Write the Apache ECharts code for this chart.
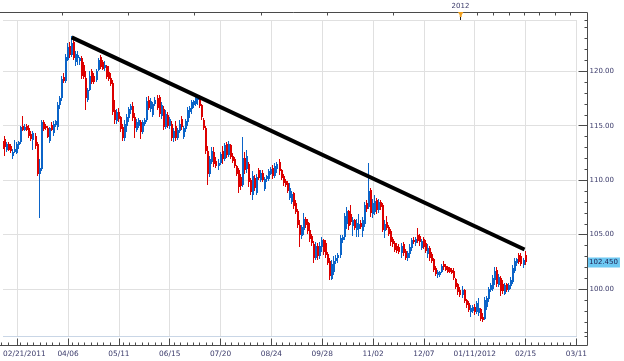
<!DOCTYPE html>
<html><head><meta charset="utf-8">
<script src="https://cdn.jsdelivr.net/npm/echarts@6/dist/echarts.min.js"></script>
<style>html,body{margin:0;padding:0;background:#fff}#c{width:624px;height:361px}</style>
</head><body><div id="c"></div>
<script>
// Daily bars [open, high, low, close], one trading day per row
const feb2011 = [[113.6,113.9,112.7,112.9],[113.8,114.1,112.2,113.0],[112.8,113.5,112.6,113.3],[113.3,113.5,112.7,112.8],[113.1,113.3,112.5,112.7],[112.2,112.9,111.9,112.6]];
const mar2011 = [[112.6,113.7,112.5,112.9],[112.5,113.5,112.4,113.3],[113.2,113.6,112.9,113.5],[113.5,115.0,113.3,114.9],[115.0,115.9,114.5,114.6],[114.6,115.2,114.5,114.9],[115.0,115.2,114.5,114.6],[114.8,115.1,113.9,114.1],[114.2,114.5,113.6,113.8],[113.7,114.5,112.8,114.3],[114.1,114.3,112.9,113.1],[113.3,113.5,110.4,110.6],[110.6,111.9,106.5,111.1],[111.0,115.5,110.8,115.3],[115.3,115.5,114.5,114.7],[115.0,115.2,114.6,114.8],[114.8,115.0,113.9,114.0],[113.6,114.9,113.4,114.8],[115.1,115.3,114.5,114.6],[114.3,115.4,114.1,115.2],[115.1,115.5,114.9,115.4],[114.9,117.2,114.6,116.9],[116.9,117.7,116.5,117.5]];
const apr2011 = [[117.5,119.6,117.3,119.3],[119.5,119.8,118.9,119.1],[119.1,121.6,118.9,121.3],[121.0,122.6,120.9,122.2],[122.3,122.7,121.2,121.5],[121.5,123.2,121.3,122.6],[122.7,122.9,121.0,121.2],[120.8,121.9,120.5,121.6],[121.2,121.9,120.6,121.5],[120.9,121.3,120.6,121.2],[121.2,121.4,119.3,119.6],[120.6,120.8,119.3,119.5],[119.4,120.0,116.4,117.5],[117.4,118.5,117.2,118.3],[118.3,120.0,118.2,119.6],[120.0,120.2,118.8,119.0],[119.6,119.8,118.8,119.0],[119.2,120.2,119.0,120.0],[120.1,121.2,120.0,121.0],[121.3,121.5,120.2,120.4],[120.8,121.0,120.1,120.2]];
const may2011 = [[120.3,120.9,120.0,120.6],[120.5,120.6,119.3,119.5],[119.9,120.5,119.1,119.3],[119.4,119.8,118.6,118.8],[118.9,119.2,116.0,116.3],[116.4,117.4,115.2,115.5],[115.4,116.5,115.2,116.3],[116.3,116.6,115.3,115.6],[115.8,115.9,114.4,114.7],[114.9,115.2,113.6,113.9],[113.9,115.5,113.6,115.2],[115.0,116.1,114.4,115.8],[115.7,116.7,115.3,116.5],[116.4,117.0,116.1,116.8],[116.8,117.2,115.4,115.7],[115.8,116.2,113.9,114.8],[114.6,115.6,114.4,115.3],[115.0,115.7,114.8,115.5],[115.3,115.5,113.8,114.4],[114.4,115.5,114.2,115.3],[115.2,115.7,115.0,115.5],[115.5,117.6,115.3,117.3]];
const jun2011 = [[117.4,117.7,116.4,116.6],[116.5,117.5,116.3,117.3],[116.0,117.2,115.8,117.0],[117.0,117.6,116.8,117.4],[117.5,117.8,116.4,116.6],[117.6,117.8,115.8,116.1],[115.9,117.2,115.6,116.9],[116.5,116.8,114.6,114.9],[114.9,116.4,114.7,116.1],[116.0,116.3,114.8,115.0],[115.0,115.8,114.7,115.6],[115.2,115.4,113.6,113.9],[113.9,114.8,113.5,114.5],[115.0,115.4,113.6,113.9],[113.9,114.8,113.7,114.6],[114.5,115.5,114.3,115.2],[115.6,115.9,114.6,114.9],[114.0,115.0,113.8,114.8],[114.7,115.6,114.4,115.4],[115.3,116.7,115.0,116.4],[116.3,116.8,115.7,116.6],[116.5,117.4,116.1,117.2]];
const jul2011 = [[116.9,117.4,116.6,117.3],[117.0,117.7,116.8,117.5],[117.4,117.7,116.9,117.6],[117.6,117.8,116.6,116.8],[116.9,117.0,115.5,115.8],[115.5,115.7,114.6,114.8],[114.8,115.0,112.4,112.7],[112.7,113.1,109.6,110.6],[110.6,112.2,110.3,111.9],[111.7,113.0,111.5,112.7],[112.6,113.0,111.2,111.5],[111.8,112.1,111.1,111.3],[111.3,111.9,110.9,111.6],[111.6,112.6,111.4,112.4],[112.7,113.1,111.5,111.9],[111.9,113.4,111.8,113.2],[113.3,113.5,112.0,112.3],[112.3,113.6,112.1,113.3],[113.2,113.3,111.9,112.1],[112.2,112.5,111.6,111.8],[111.9,112.1,111.1,111.3]];
const aug2011 = [[111.3,111.4,110.4,110.6],[110.9,111.1,108.8,109.4],[110.3,110.6,109.1,109.5],[109.6,114.0,109.4,112.0],[112.0,112.6,110.6,110.9],[111.0,112.8,110.7,112.2],[111.5,111.7,109.4,109.8],[110.0,110.2,108.6,108.9],[108.6,110.8,108.2,110.4],[110.2,110.5,109.0,109.3],[108.8,110.6,108.6,110.3],[110.9,111.1,110.0,110.2],[110.0,110.9,109.8,110.7],[110.7,110.9,109.8,110.0],[109.2,110.3,109.0,110.1],[110.1,110.5,109.8,110.4],[110.1,111.0,109.9,110.8],[110.6,111.2,110.5,111.0],[111.1,111.4,110.1,110.4],[110.4,111.6,110.2,111.3],[111.0,111.7,110.7,111.5],[111.7,111.9,110.5,110.8],[110.9,111.0,110.0,110.2]];
const sep2011 = [[110.4,110.6,109.5,109.7],[109.9,110.1,109.4,109.6],[109.7,109.9,108.8,109.0],[108.4,109.7,108.2,109.3],[108.0,109.0,107.8,108.7],[108.8,108.9,107.4,107.6],[107.9,108.2,106.9,107.1],[107.2,107.4,105.6,105.9],[105.9,106.3,103.9,105.0],[104.9,105.9,104.6,105.7],[105.4,107.0,105.0,106.4],[106.4,106.6,105.6,105.9],[106.2,106.4,105.1,105.3],[105.4,106.1,104.3,104.6],[104.9,105.1,104.0,104.2],[104.1,104.4,102.4,102.9],[102.9,104.3,102.7,104.0],[104.0,104.2,102.7,103.0],[103.0,104.3,102.8,104.0],[103.9,104.8,103.4,104.5],[104.5,104.6,103.1,103.4],[104.2,104.5,102.9,103.1]];
const oct2011 = [[103.2,103.4,102.2,102.4],[102.6,102.9,100.8,101.2],[100.9,102.7,100.8,102.3],[101.6,103.0,101.3,102.6],[102.6,103.1,102.3,102.9],[102.9,103.3,102.4,103.1],[103.1,105.0,102.9,104.7],[104.5,105.0,104.2,104.8],[104.8,107.0,104.5,106.7],[106.0,107.5,105.5,107.2],[107.2,107.3,105.4,105.8],[106.9,107.7,105.9,106.2],[105.8,106.6,104.9,106.3],[106.3,106.4,105.4,105.6],[105.4,106.4,104.8,106.1],[105.5,106.9,104.8,106.0],[106.1,106.3,105.5,105.7],[105.3,106.6,104.8,106.3],[106.0,108.0,105.7,107.7],[107.9,108.2,107.1,107.4],[107.5,111.6,107.4,109.0]];
const nov2011 = [[109.1,109.3,106.6,107.0],[106.9,108.3,106.5,107.9],[107.1,108.6,106.8,108.1],[108.2,108.4,106.9,107.3],[107.3,108.3,107.0,108.0],[108.0,108.2,107.3,107.5],[107.7,107.9,105.2,105.4],[105.3,106.3,104.7,106.0],[106.2,106.7,105.4,105.6],[105.7,105.9,104.9,105.1],[105.3,105.5,104.0,104.3],[104.6,104.8,103.9,104.1],[104.2,104.4,103.4,103.6],[104.0,104.2,103.3,103.5],[103.9,104.1,103.2,103.4],[103.3,104.2,102.9,104.0],[104.1,104.3,103.0,103.3],[103.5,103.7,102.7,102.9],[102.9,103.5,102.6,103.3],[103.2,104.1,102.9,103.9],[103.8,104.7,103.5,104.5],[104.5,104.8,104.1,104.3]];
const dec2011 = [[104.2,104.8,104.0,104.6],[105.0,105.6,104.2,104.4],[104.9,105.1,104.0,104.3],[103.8,104.6,103.6,104.4],[104.6,104.8,103.7,103.9],[104.2,104.5,103.3,103.5],[103.2,104.1,102.9,103.8],[103.8,104.0,102.6,102.9],[103.2,103.4,102.4,102.6],[102.8,102.9,101.6,101.8],[101.9,102.1,101.2,101.4],[101.3,101.8,101.0,101.6],[101.3,101.7,101.1,101.6],[101.6,102.3,101.5,102.1],[102.3,102.6,101.8,102.0],[102.1,102.3,101.7,101.8],[102.0,102.1,101.5,101.6],[101.9,102.0,101.5,101.6],[101.8,101.9,101.4,101.5],[101.7,101.9,100.8,101.0],[100.9,101.0,100.0,100.2],[100.5,100.6,99.5,99.7]];
const jan2012 = [[99.9,100.2,99.3,99.5],[99.5,100.3,99.2,99.9],[99.9,100.0,98.7,98.9],[99.0,99.1,98.3,98.5],[98.7,98.9,97.9,98.1],[97.9,98.5,97.4,98.3],[98.0,98.5,97.8,98.4],[98.4,98.6,97.6,97.9],[97.9,98.9,97.7,98.7],[97.8,99.2,97.5,98.3],[98.2,98.3,97.1,97.3],[97.4,97.8,97.0,97.2],[97.3,99.3,97.2,99.0],[98.4,99.4,98.1,99.2],[99.1,100.2,98.8,100.0],[99.9,100.6,99.7,100.4],[100.0,101.3,99.8,101.0],[100.8,102.0,100.4,101.7],[101.8,102.0,100.2,100.5],[100.4,101.4,100.2,101.1],[101.0,101.2,99.4,99.8],[100.5,100.8,99.6,99.8]];
const feb2012 = [[99.6,100.6,99.5,100.4],[100.5,100.6,99.7,99.9],[99.9,100.6,99.7,100.4],[100.3,101.1,100.0,100.8],[100.7,102.2,100.5,101.9],[101.7,102.9,101.5,102.6],[102.4,102.9,102.1,102.8],[103.1,103.3,102.3,102.5],[103.0,103.3,102.1,102.3],[102.2,102.9,101.9,102.7],[103.1,103.5,102.2,102.45]];

// Axis ticks / labels (x = trading-day index from 02/21/2011)
const labelIdx = [0, 32, 57, 82, 107, 132, 157, 182, 207, 232, 257, 282];
const labelText = ['02/21/2011','04/06','05/11','06/15','07/20','08/24','09/28','11/02','12/07','01/11/2012','02/15','03/11'];
const majorTickIdx = [7, 32, 57, 82, 107, 132, 157, 182, 207, 232, 257, 282];
const topTickIdx = [30.3, 62.6, 94.9, 127.7, 160.0, 192.3, 233.4, 241.2, 249.0, 256.4, 263.7, 271.5, 278.9];
const yearIdx = 225;
const yearText = '2012';
// Trend line endpoints [index, price]
const trendStart = [33.8, 123.1];
const trendEnd = [256.5, 103.64];

const X_MIN = 0, X_MAX = 282.3, Y_MIN = 95.7, Y_MAX = 124.7;

const months = [feb2011, mar2011, apr2011, may2011, jun2011, jul2011, aug2011, sep2011, oct2011, nov2011, dec2011, jan2012, feb2012];
const rows = [].concat(...months);
const candles = rows.map((r, i) => [i, r[0], r[3], r[2], r[1]]);
const lastClose = rows[rows.length - 1][3];
const labelMap = {};
labelIdx.forEach((v, i) => { labelMap[v] = labelText[i]; });
const minorTicks = [];
for (let k = -2; k <= 88; k++) { if (k % 8 !== 0) minorTicks.push(7 + k * 25 / 8); }

const FONT = 'DejaVu Sans';
const TXT = '#3a3a6a';
const AX = '#4a4a4a';
const blue = '#0b64c8', red = '#dc0000';

function renderCandle(params, api) {
  const i = api.value(0), o = api.value(1), c = api.value(2), l = api.value(3), h = api.value(4);
  const po = api.coord([i, o]), pc = api.coord([i, c]), pl = api.coord([i, l]), ph = api.coord([i, h]);
  const cx = Math.round(po[0]);
  const col = c >= o ? blue : red;
  const top = Math.round(Math.min(po[1], pc[1]));
  const bot = Math.round(Math.max(po[1], pc[1]));
  return {
    type: 'group',
    children: [
      {type: 'line', shape: {x1: cx - 0.5, y1: Math.round(ph[1]), x2: cx - 0.5, y2: Math.round(pl[1])}, style: {stroke: col, lineWidth: 1}},
      {type: 'rect', shape: {x: cx - 1, y: top, width: 2, height: Math.max(1, bot - top)}, style: {fill: col}}
    ]
  };
}

const chart = echarts.init(document.getElementById('c'), null, {renderer: 'canvas'});
const noLine = {show: false, onZero: false};
const baseX = {type: 'value', min: X_MIN, max: X_MAX, axisLine: noLine, splitLine: {show: false}};
chart.setOption({
  animation: false,
  backgroundColor: '#ffffff',
  grid: [
    {left: 0, right: 47, top: 20, bottom: 25, containLabel: false},
    {left: 0, right: 47, top: 20, bottom: 25, containLabel: false}
  ],
  xAxis: [
    Object.assign({}, baseX, {
      gridIndex: 0, position: 'bottom', offset: 9.5,
      axisTick: {show: true, inside: true, length: 7, customValues: majorTickIdx, lineStyle: {color: AX}},
      axisLabel: {customValues: labelIdx, formatter: v => labelMap[v] || '', margin: 5, fontSize: 7.4, fontFamily: FONT, color: TXT, alignMinLabel: 'left'},
      splitLine: {show: true, lineStyle: {color: '#e0e0e0', width: 1}}
    }),
    Object.assign({}, baseX, {
      gridIndex: 1, position: 'bottom', offset: 9.5,
      axisTick: {show: true, inside: true, length: 3, customValues: minorTicks, lineStyle: {color: AX}},
      axisLabel: {show: false}
    }),
    Object.assign({}, baseX, {
      gridIndex: 0, position: 'top', offset: 7.5,
      axisTick: {show: true, inside: true, length: 7.5, customValues: [yearIdx], lineStyle: {color: '#222'}},
      axisLabel: {customValues: [yearIdx], formatter: () => yearText, margin: 3, fontSize: 7, fontFamily: FONT, color: TXT}
    }),
    Object.assign({}, baseX, {
      gridIndex: 1, position: 'top', offset: 7.5,
      axisTick: {show: true, inside: true, length: 3, customValues: topTickIdx, lineStyle: {color: AX}},
      axisLabel: {show: false}
    })
  ],
  yAxis: [
    {
      gridIndex: 0, type: 'value', position: 'right', min: Y_MIN, max: Y_MAX, splitNumber: 6, offset: 10.5,
      axisLine: noLine,
      axisTick: {show: true, inside: true, length: 9, lineStyle: {color: AX}},
      axisLabel: {showMinLabel: false, showMaxLabel: false, formatter: v => v.toFixed(2), margin: 2, fontSize: 7, fontFamily: FONT, color: TXT},
      splitLine: {show: true, lineStyle: {color: ['#c9d6e6', '#e0e0e0', '#e0e0e0', '#e0e0e0', '#e0e0e0', '#e0e0e0', '#e0e0e0'], width: 1}}
    },
    {
      gridIndex: 1, type: 'value', position: 'right', min: Y_MIN, max: Y_MAX, splitNumber: 29, offset: 10.5,
      axisLine: noLine,
      axisTick: {show: true, inside: true, length: 3, lineStyle: {color: AX}},
      axisLabel: {show: false},
      splitLine: {show: false}
    }
  ],
  series: [
    {
      type: 'custom', xAxisIndex: 0, yAxisIndex: 0, clip: true,
      data: candles, encode: {x: 0, y: [1, 2, 3, 4]},
      renderItem: renderCandle, silent: true
    },
    {
      type: 'line', xAxisIndex: 0, yAxisIndex: 0,
      data: [trendStart, trendEnd], showSymbol: false, symbol: 'none', silent: true, z: 5,
      lineStyle: {color: '#000000', width: 4},
      markLine: {
        silent: true, symbol: ['none', 'none'], animation: false,
        lineStyle: {color: 'rgba(0,0,0,0)', width: 0},
        label: {show: true, position: 'end', distance: 10, formatter: () => lastClose.toFixed(3), backgroundColor: '#6cc8f2', color: '#1e1e50', fontSize: 7, fontFamily: FONT, padding: [2, 2, 1, 2]},
        data: [{yAxis: lastClose}]
      }
    }
  ]
});

const yx = chart.convertToPixel({xAxisIndex: 0}, yearIdx);
chart.setOption({
  graphic: [
    {type: 'polyline', silent: true, z: 100,
     shape: {points: [[0, 12.5], [587.5, 12.5], [587.5, 345.5], [0, 345.5]]},
     style: {stroke: AX, lineWidth: 1, fill: null}},
    {type: 'polygon', silent: true, z: 101,
     shape: {points: [[yx - 2.5, 12], [yx + 3, 12], [yx + 1.2, 15], [yx + 1.2, 17], [yx - 0.8, 17], [yx - 0.8, 15]]},
     style: {fill: '#f2a11f'}}
  ]
});
</script>
</body></html>
